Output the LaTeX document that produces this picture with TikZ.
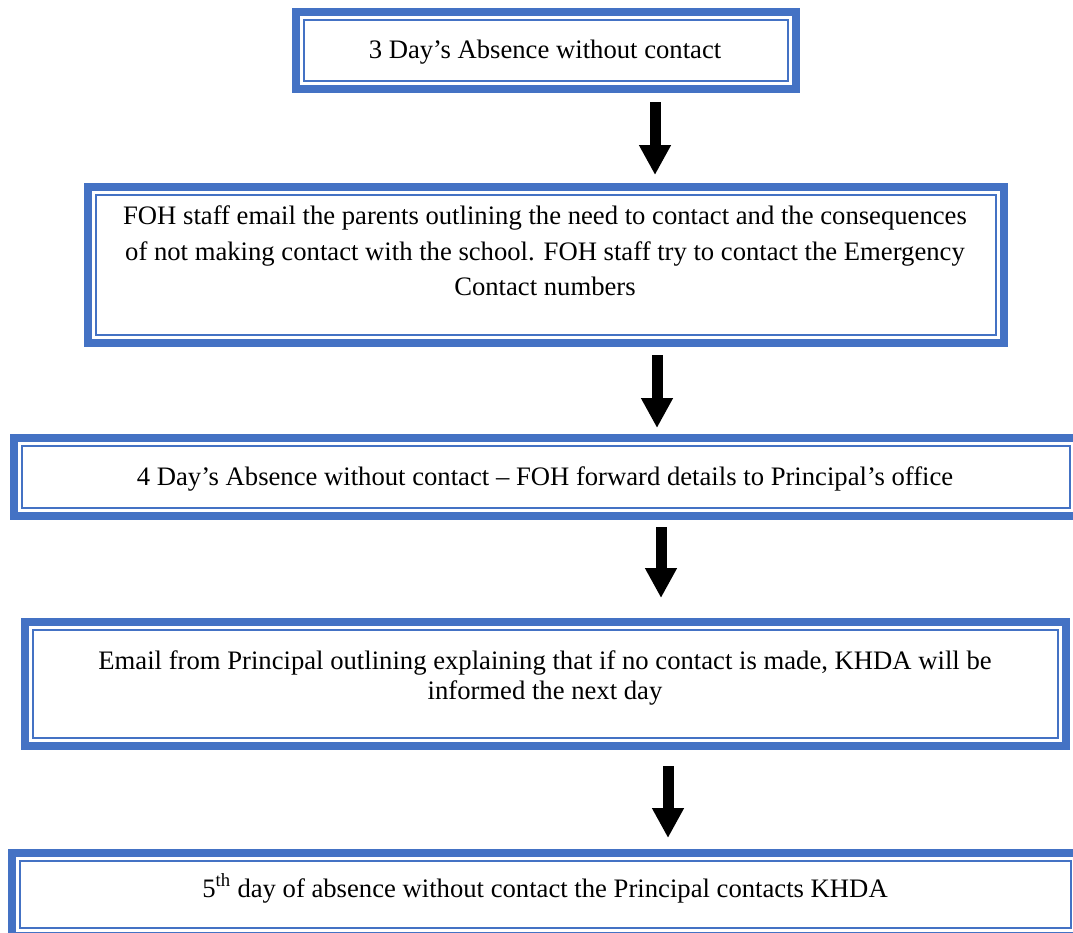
\documentclass[tikz,border=0pt]{standalone}
\usepackage{fontspec}
\setmainfont{Liberation Serif}
\usetikzlibrary{arrows.meta}
\definecolor{boxblue}{HTML}{4472C4}
\begin{document}
\begin{tikzpicture}[x=0.75pt,y=-0.75pt,
  frame/.style={draw=boxblue, line width=6pt, rectangle, inner sep=0pt, outer sep=0pt, fill=white},
  innerline/.style={draw=boxblue, line width=2pt},
  txt/.style={font=\fontsize{20}{23}\selectfont, inner sep=0pt, align=center},
  bigarrow/.style={line width=8.25pt, -{Triangle[length=22.5pt,width=22.5pt]}}]
\useasboundingbox (0,0) rectangle (1073,932);
\clip (0,0) rectangle (1073,932);
% boxes
\node[frame, minimum width=375pt, minimum height=57.75pt] (b1) at (546,50.5) {};
\node[frame, minimum width=687pt, minimum height=117pt] (b2) at (546,265) {};
\node[frame, minimum width=798pt, minimum height=58.5pt] (b3) at (546,477) {};
\node[frame, minimum width=780.75pt, minimum height=93pt] (b4) at (545.5,684) {};
\node[frame, minimum width=800.25pt, minimum height=62.25pt] (b5) at (545.5,894.5) {};
\foreach \b in {b1,b2,b3,b4,b5}{
  \draw[innerline] ([shift={(6pt,-6pt)}]\b.north west) rectangle ([shift={(-6pt,6pt)}]\b.south east);
}
% texts
\node[txt, anchor=base] (t1) at (545,58) {3 Day’s Absence without contact};
\node[txt, font=\fontsize{20}{26.5}\selectfont] (t2) at (545,251) {FOH staff email the parents outlining the need to contact and the consequences\\ of not making contact with the school. FOH staff try to contact the Emergency\\ Contact numbers};
\node[txt, anchor=base] (t3) at (545,485) {4 Day’s Absence without contact – FOH forward details to Principal’s office};
\node[txt] (t4) at (545,678) {Email from Principal outlining explaining that if no contact is made, KHDA will be\\ informed the next day};
\node[txt, anchor=base] (t5) at (545,897) {5\textsuperscript{th} day of absence without contact the Principal contacts KHDA};
% arrows
\coordinate (a1s) at (655,102);
\coordinate (a1e) at (655,175);
\coordinate (a2s) at (657,355);
\coordinate (a2e) at (657,428);
\coordinate (a3s) at (661,527);
\coordinate (a3e) at (661,598);
\coordinate (a4s) at (668,766);
\coordinate (a4e) at (668,838);
\draw[bigarrow] (a1s) -- (a1e);
\draw[bigarrow] (a2s) -- (a2e);
\draw[bigarrow] (a3s) -- (a3e);
\draw[bigarrow] (a4s) -- (a4e);
\end{tikzpicture}
\end{document}
